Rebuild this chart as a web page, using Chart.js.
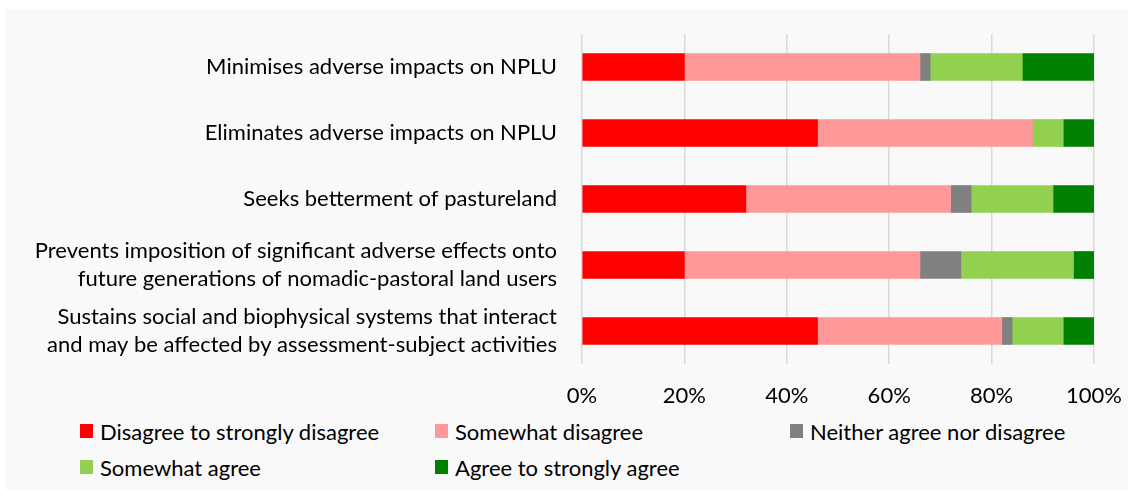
<!DOCTYPE html>
<html>
<head>
<meta charset="utf-8">
<script src="https://cdn.jsdelivr.net/npm/chart.js@4"></script>
<style>
  body { margin: 0; background: #ffffff; }
  #panel { position: absolute; left: 5px; top: 9px; width: 1123px; height: 481px; background: #f9f9f9; }
  #wrap { position: absolute; left: 0; top: 0; width: 1128px; height: 410px; }
  #legend { position: absolute; left: 80px; top: 418px; width: 1040px; display: grid;
            grid-template-columns: 355px 355px 330px; row-gap: 10px;
            font-family: Lato, sans-serif; font-size: 22px; color: #000; }
  #legend .item { display: flex; align-items: center; height: 26px; white-space: nowrap; }
  #legend .box { width: 13px; height: 14px; margin-right: 7px; flex: none; }
</style>
</head>
<body>
<div id="panel"></div>
<div id="wrap"><canvas id="grafico" width="1128" height="410"></canvas></div>
<div id="legend"></div>
<script>
// Categorias (de arriba hacia abajo)
const categorias = [
    'Minimises adverse impacts on NPLU',
    'Eliminates adverse impacts on NPLU',
    'Seeks betterment of pastureland',
    ['Prevents imposition of significant adverse effects onto', 'future generations of nomadic-pastoral land users'],
    ['Sustains social and biophysical systems that interact', 'and may be affected by assessment-subject activities']
];

// Porcentajes por respuesta
const desacuerdoFuerte = [20, 46, 32, 20, 46];
const algoDesacuerdo = [46, 42, 40, 46, 36];
const neutral = [2, 0, 4, 8, 2];
const algoAcuerdo = [18, 6, 16, 22, 10];
const acuerdoFuerte = [14, 6, 8, 4, 6];

const etiquetasX = ['0%', '20%', '40%', '60%', '80%', '100%'];

const series = [
    { label: 'Disagree to strongly disagree', data: desacuerdoFuerte, color: '#ff0000' },
    { label: 'Somewhat disagree', data: algoDesacuerdo, color: '#ff9999' },
    { label: 'Neither agree nor disagree', data: neutral, color: '#808080' },
    { label: 'Somewhat agree', data: algoAcuerdo, color: '#92d050' },
    { label: 'Agree to strongly agree', data: acuerdoFuerte, color: '#008000' }
];

const fuente = { family: 'Lato, sans-serif', size: 22 };

const ctx = document.getElementById('grafico').getContext('2d');
const grafico = new Chart(ctx, {
    type: 'bar',
    data: {
        labels: categorias,
        datasets: series.map(s => ({
            label: s.label,
            data: s.data,
            backgroundColor: s.color,
            borderWidth: 0,
            barThickness: 27
        }))
    },
    options: {
        indexAxis: 'y',
        responsive: false,
        animation: false,
        layout: { padding: { top: 34, right: 34, left: 0, bottom: 0 } },
        plugins: {
            legend: { display: false },
            tooltip: { enabled: false }
        },
        scales: {
            x: {
                stacked: true,
                min: 0,
                max: 100,
                afterFit: scale => {
                    scale.height = 46;
                    scale.paddingLeft = 0;
                    scale.paddingRight = 0;
                },
                grid: { color: '#d9d9d9', lineWidth: 1.5, drawTicks: false },
                border: { display: false },
                ticks: {
                    stepSize: 20,
                    padding: 19,
                    color: '#000',
                    font: fuente,
                    callback: (v) => etiquetasX[v / 20]
                }
            },
            y: {
                stacked: true,
                afterFit: scale => {
                    scale.width = 582;
                    scale.paddingTop = 0;
                    scale.paddingBottom = 0;
                },
                grid: { display: false, drawTicks: false },
                border: { display: false },
                ticks: {
                    padding: 25,
                    color: '#000',
                    font: { family: fuente.family, size: fuente.size, lineHeight: 1.3 }
                }
            }
        }
    }
});

// Leyenda en tres columnas
const leyenda = document.getElementById('legend');
grafico.data.datasets.forEach(ds => {
    const item = document.createElement('div');
    item.className = 'item';
    item.innerHTML = '<span class="box" style="background:' + ds.backgroundColor + '"></span>' + ds.label;
    leyenda.appendChild(item);
});
</script>
</body>
</html>
